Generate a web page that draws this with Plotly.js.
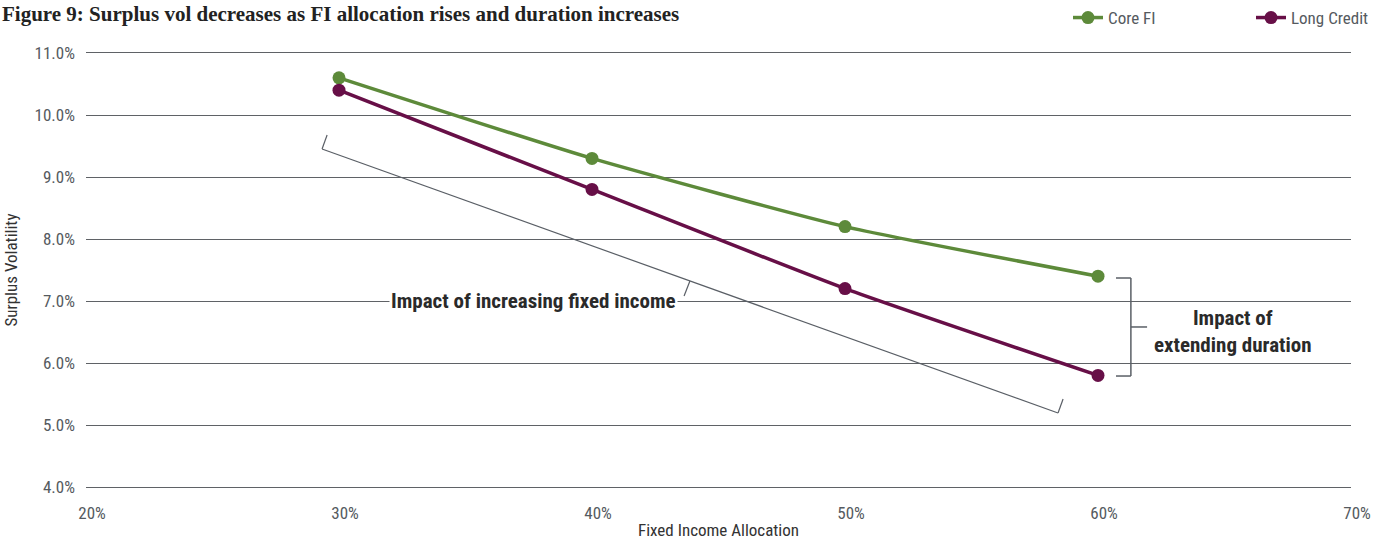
<!DOCTYPE html>
<html>
<head>
<meta charset="utf-8">
<script src="https://cdn.plot.ly/plotly-3.0.1.min.js"></script>
<style>html,body{margin:0;padding:0;background:#fff;}#chart{width:1390px;height:540px;}</style>
</head>
<body>
<div id="chart"></div>
<script>
// Data
const allocations = [30, 40, 50, 60];
const coreFI = [10.6, 9.3, 8.2, 7.4];
const longCredit = [10.4, 8.8, 7.2, 5.8];
const seriesNames = ["Core FI", "Long Credit"];
const xTicks = [20, 30, 40, 50, 60, 70];
const xTickLabels = ["20%", "30%", "40%", "50%", "60%", "70%"];
const yTicks = [4, 5, 6, 7, 8, 9, 10, 11];
const yTickLabels = ["4.0%", "5.0%", "6.0%", "7.0%", "8.0%", "9.0%", "10.0%", "11.0%"];
const titleText = "Figure 9: Surplus vol decreases as FI allocation rises and duration increases";

const condensed = "Roboto Condensed, Liberation Sans Narrow, DejaVu Sans Condensed, Roboto, sans-serif";
const green = "#5d8a3a";
const purple = "#670f47";
const bracket = "#5a5f66";
const grid = "#5f6266";

const traces = [
  {x: allocations, y: coreFI, name: seriesNames[0], type: "scatter", mode: "lines+markers",
   line: {color: green, width: 3.5, shape: "spline", smoothing: 0.5}, marker: {color: green, size: 13}},
  {x: allocations, y: longCredit, name: seriesNames[1], type: "scatter", mode: "lines+markers",
   line: {color: purple, width: 3.5, shape: "spline", smoothing: 0.5}, marker: {color: purple, size: 13}}
];

function seg(x0, y0, x1, y1, w) {
  return {type: "line", xref: "x", yref: "y", x0: x0, y0: y0, x1: x1, y1: y1,
          line: {color: bracket, width: w || 1.2}, layer: "above"};
}

const shapes = [
  // diagonal bracket for increasing fixed income
  seg(29.33, 9.452, 58.42, 5.194),
  seg(29.33, 9.452, 29.53, 9.677),
  seg(58.42, 5.194, 58.62, 5.419),
  seg(43.64, 7.081, 43.87, 7.323),
  // right bracket for extending duration
  seg(61.30, 7.371, 61.30, 5.790, 1.5),
  seg(60.71, 7.371, 61.30, 7.371, 1.5),
  seg(60.71, 5.790, 61.30, 5.790, 1.5),
  seg(61.30, 6.581, 61.94, 6.581, 1.5)
];

const annotations = [
  {text: "<b>" + titleText + "</b>", xref: "paper", yref: "paper", x: -86/1265, y: 1 + 53/434,
   xanchor: "left", yanchor: "top", showarrow: false,
   font: {family: "Liberation Serif, DejaVu Serif, serif", size: 21, color: "#222"}},
  {text: "<b>Impact of increasing fixed income</b>", xref: "x", yref: "y", x: 37.69, y: 7.0,
   xanchor: "center", yanchor: "middle", showarrow: false, bgcolor: "#fff", borderpad: 1,
   font: {family: condensed, size: 21, color: "#2a2a2a"}},
  {text: "<b>Impact of<br>extending duration</b>", xref: "x", yref: "y", x: 65.34, y: 6.516,
   xanchor: "center", yanchor: "middle", showarrow: false,
   font: {family: condensed, size: 21, color: "#2a2a2a"}}
];

const layout = {
  width: 1390, height: 540,
  margin: {l: 86, r: 39, t: 53, b: 53, autoexpand: false},
  paper_bgcolor: "#fff", plot_bgcolor: "#fff",
  showlegend: true,
  legend: {orientation: "h", x: (1068 - 86)/1265, xanchor: "left", yref: "container", y: 1, yanchor: "top",
           font: {family: condensed, size: 17, color: "#555a60"}, entrywidth: 138, bgcolor: "rgba(0,0,0,0)",
           traceorder: "normal"},
  xaxis: {range: [20, 70], tickvals: xTicks, ticktext: xTickLabels, showgrid: false, zeroline: false,
          showline: true, mirror: true, linecolor: grid, linewidth: 1,
          ticks: "", ticklabelshift: 6, ticklabelstandoff: 11, automargin: false,
          tickfont: {family: condensed, size: 17, color: "#555a60"},
          title: {text: "Fixed Income Allocation", standoff: 6, font: {family: condensed, size: 17, color: "#333"}}},
  yaxis: {range: [4, 11], tickvals: yTicks, ticktext: yTickLabels, showgrid: true, gridcolor: grid,
          gridwidth: 1, zeroline: false, showline: false, ticks: "", ticklabelstandoff: 10, automargin: false,
          tickfont: {family: condensed, size: 17, color: "#555a60"},
          title: {text: "Surplus Volatility", standoff: 12, font: {family: condensed, size: 17, color: "#333"}}},
  shapes: shapes,
  annotations: annotations
};

Plotly.newPlot("chart", traces, layout, {displayModeBar: false, staticPlot: true});
</script>
</body>
</html>
